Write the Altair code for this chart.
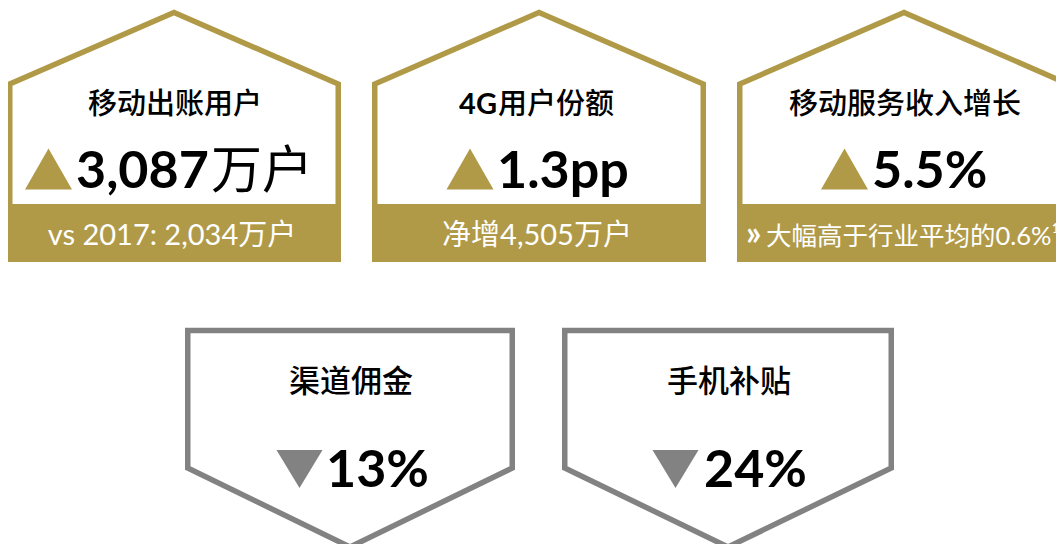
import altair as alt
import pandas as pd

# ---------------- data ----------------
titles = ["移动出账用户", "4G用户份额", "移动服务收入增长", "渠道佣金", "手机补贴"]
values = ["3,087", "1.3pp", "5.5%", "13%", "24%"]
units = ["万户", "", "", "", ""]
directions = ["up", "up", "up", "down", "down"]
notes = ["vs 2017: 2,034万户", "净增4,505万户", "» 大幅高于行业平均的0.6%¹", "", ""]

# ---------------- layout ----------------
GOLD = "#B09A48"
GRAY = "#828282"
SW = 5.5
h = SW / 2
card_left = [7, 372, 737, 185, 562]
card_width = [334, 334, 334, 330, 332]
tri_dx = [-125.5, -69, -59.5, -50.5, -52.5]     # triangle centre relative to card centre
val_dx = [-98, -42, -32, -24, -24]              # value text left edge relative to card centre
unit_dx = [37, 0, 0, 0, 0]
TITLE_SIZE = [29, 29, 29, 31, 31]

HOUSE_TOP, HOUSE_SHOULDER, BAND_TOP, BAND_BOTTOM = 12.5, 84, 204, 262
ARROW_TOP, ARROW_SHOULDER, ARROW_TIP = 330.5, 468, 547

outline_rows, band_rows, tri_rows, val_rows, unit_rows = [], [], [], [], []
note_c_rows, note_l_rows, note_mark_rows = [], [], []
title_cjk_rows, title_lat_rows = [], []
for k in range(len(titles)):
    L = card_left[k]
    R = L + card_width[k]
    cx = (L + R) / 2
    if directions[k] == "up":
        pts = [(L + h, BAND_TOP + 20), (L + h, HOUSE_SHOULDER), (cx, HOUSE_TOP),
               (R - h, HOUSE_SHOULDER), (R - h, BAND_TOP + 20)]
        col = GOLD
        band_rows.append({"x": L, "x2": R, "y": BAND_TOP, "y2": BAND_BOTTOM})
        ty, vy, triy = 114, 188, 169
    else:
        pts = [(cx, ARROW_TOP), (R - h, ARROW_TOP), (R - h, ARROW_SHOULDER), (cx, ARROW_TIP),
               (L + h, ARROW_SHOULDER), (L + h, ARROW_TOP), (cx, ARROW_TOP)]
        col = GRAY
        ty, vy, triy = 392, 487, 469
    for i, (px, py) in enumerate(pts):
        outline_rows.append({"card": k, "i": i, "x": px, "y": py, "col": col})

    # title: optional leading latin part in bold, rest CJK
    t = titles[k]
    n_lat = 0
    while n_lat < len(t) and ord(t[n_lat]) < 128:
        n_lat += 1
    fs = TITLE_SIZE[k]
    lat_w = n_lat * 0.55 * fs
    total = lat_w + (len(t) - n_lat) * fs
    start = cx - total / 2
    if n_lat:
        title_lat_rows.append({"x": start + lat_w, "y": ty, "t": t[:n_lat], "fs": fs})
    title_cjk_rows.append({"x": start + lat_w + 1, "y": ty, "t": t[n_lat:], "fs": fs})

    tri_rows.append({"x": cx + tri_dx[k], "y": triy, "dir": directions[k], "col": col})
    val_rows.append({"x": cx + val_dx[k], "y": vy, "t": values[k]})
    if units[k]:
        unit_rows.append({"x": cx + unit_dx[k], "y": vy, "t": units[k]})
    n = notes[k]
    if n:
        if n.startswith("»"):
            note_mark_rows.append({"x": L + 9, "y": 245, "t": "»"})
            note_l_rows.append({"x": L + 29, "y": 245, "t": n[1:].strip()})
        else:
            note_c_rows.append({"x": cx - 2, "y": 245, "t": n})

xs = alt.Scale(domain=[8, 1056], nice=False, zero=False)
ys = alt.Scale(domain=[8, 544], nice=False, zero=False, reverse=True)
X = alt.X("x:Q", scale=xs, axis=None)
Y = alt.Y("y:Q", scale=ys, axis=None)

bands = alt.Chart(pd.DataFrame(band_rows)).mark_rect(color=GOLD, clip=False).encode(
    x=X, x2="x2:Q", y=Y, y2="y2:Q")

outlines = alt.Chart(pd.DataFrame(outline_rows)).mark_line(
    strokeWidth=SW, strokeJoin="miter", strokeCap="butt", clip=False).encode(
    x=X, y=Y, detail="card:N", order="i:Q", color=alt.Color("col:N", scale=None))

UP = "M-1,0.87L0,-0.87L1,0.87Z"
DOWN = "M-1,-0.83L1,-0.83L0,0.83Z"
tri_df = pd.DataFrame(tri_rows)
tris_up = alt.Chart(tri_df[tri_df["dir"] == "up"]).mark_point(
    shape=UP, filled=True, opacity=1, size=47 * 47, strokeWidth=0, clip=False).encode(
    x=X, y=Y, color=alt.Color("col:N", scale=None))
tris_down = alt.Chart(tri_df[tri_df["dir"] == "down"]).mark_point(
    shape=DOWN, filled=True, opacity=1, size=46 * 46, strokeWidth=0, clip=False).encode(
    x=X, y=Y, color=alt.Color("col:N", scale=None))

title_cjk = alt.Chart(pd.DataFrame(title_cjk_rows)).mark_text(
    font="'Noto Sans CJK SC Medium', 'Noto Sans CJK SC'", fontWeight=500, color="black",
    align="left", baseline="alphabetic", clip=False).encode(
    x=X, y=Y, text="t:N", size=alt.Size("fs:Q", scale=None))
title_lat = alt.Chart(pd.DataFrame(title_lat_rows)).mark_text(
    font="Lato", fontWeight="bold", color="black",
    align="right", baseline="alphabetic", clip=False).encode(
    x=X, y=Y, text="t:N", size=alt.Size("fs:Q", scale=None))

val_text = alt.Chart(pd.DataFrame(val_rows)).mark_text(
    font="Lato", fontWeight="bold", fontSize=52, color="black", align="left",
    baseline="alphabetic", clip=False).encode(x=X, y=Y, text="t:N")

unit_text = alt.Chart(pd.DataFrame(unit_rows)).mark_text(
    font="Noto Sans CJK SC", fontSize=51, color="black", align="left",
    baseline="alphabetic", clip=False).encode(x=X, y=Y, text="t:N")

note_c = alt.Chart(pd.DataFrame(note_c_rows)).mark_text(
    font="Lato, 'Noto Sans CJK SC'", fontSize=29, color="white", align="center",
    baseline="alphabetic", clip=False).encode(x=X, y=Y, text="t:N")
note_l = alt.Chart(pd.DataFrame(note_l_rows)).mark_text(
    font="Lato, 'Noto Sans CJK SC'", fontSize=25.5, color="white", align="left",
    baseline="alphabetic", clip=False).encode(x=X, y=Y, text="t:N")
note_mark = alt.Chart(pd.DataFrame(note_mark_rows)).mark_text(
    font="Lato", fontWeight="bold", fontSize=34, color="white", align="left",
    baseline="alphabetic", clip=False).encode(x=X, y=Y, text="t:N")

chart = alt.layer(
    bands, outlines, tris_up, tris_down, title_cjk, title_lat, val_text, unit_text,
    note_c, note_l, note_mark
).properties(
    width=1048, height=536,
    autosize=alt.AutoSizeParams(type="none"),
    padding={"left": 0, "top": 0, "right": 0, "bottom": 0},
    background="white",
).configure_view(stroke=None)

chart.save("out.html", embed_options={"renderer": "svg", "actions": False})
